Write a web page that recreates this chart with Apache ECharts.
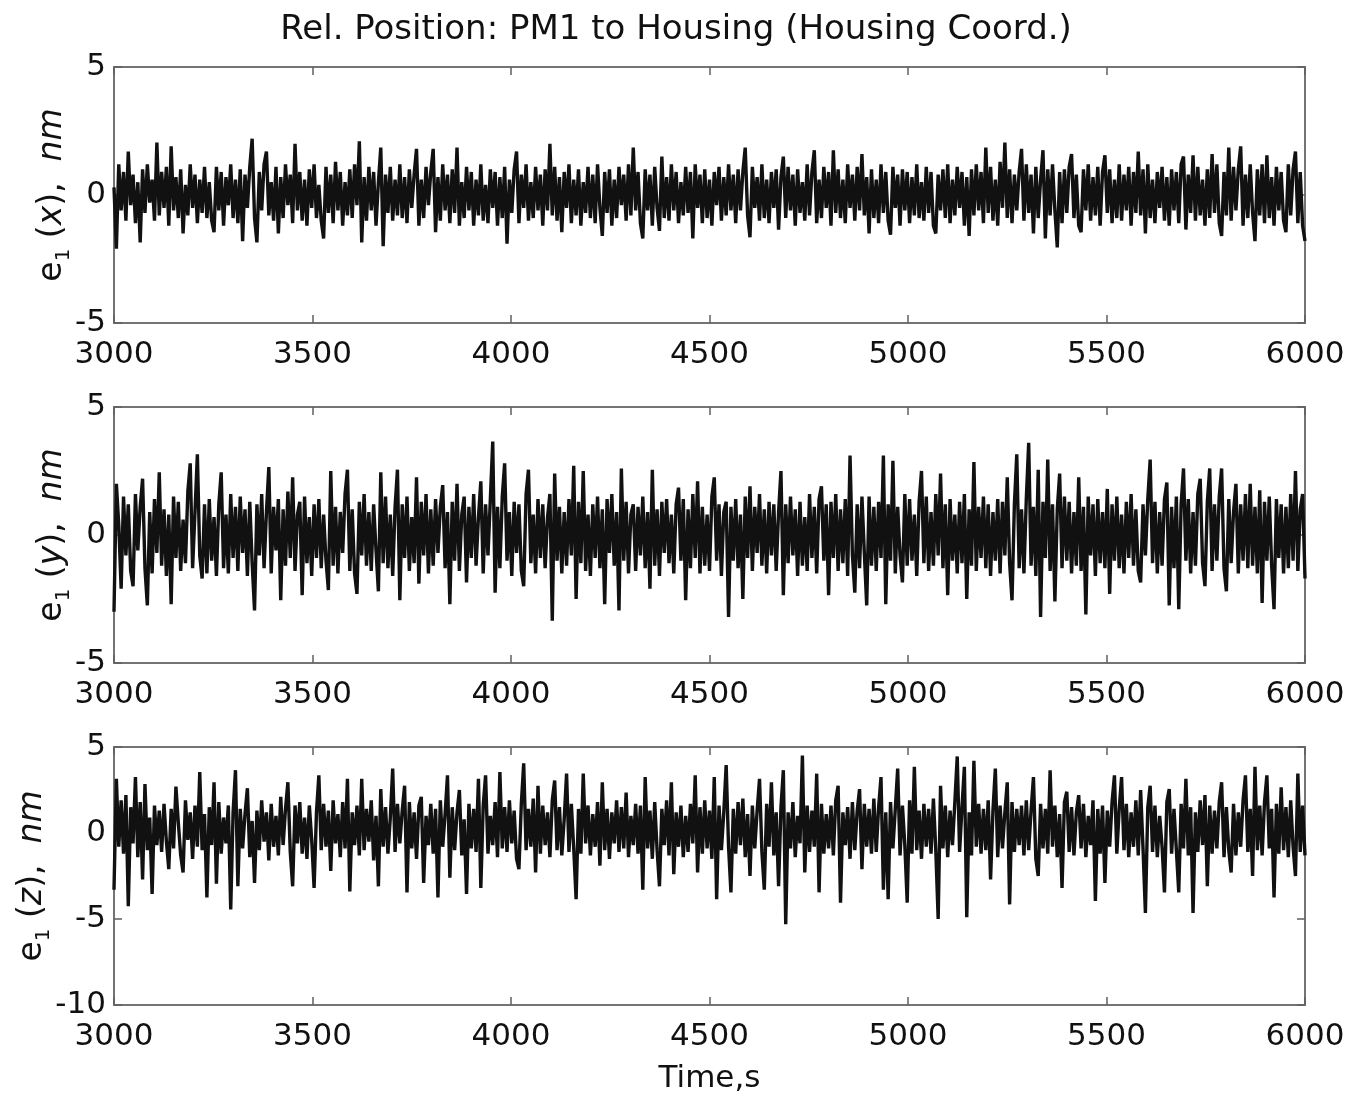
<!DOCTYPE html>
<html><head><meta charset="utf-8">
<script src="https://cdn.jsdelivr.net/npm/echarts@6/dist/echarts.min.js"></script>
<style>html,body{margin:0;padding:0;background:#fff}#c{width:1352px;height:1096px}</style>
</head><body><div id="c"></div>
<script>
const TITLE = 'Rel. Position: PM1 to Housing (Housing Coord.)';
const X_LABEL = 'Time,s';
const T_START = 3000, T_END = 6000, T_STEP = 500;
const Y_RANGES = [[-5, 5, 5], [-5, 5, 5], [-10, 5, 5]];
const Y_NAMES = ['x', 'y', 'z'];

// e1(x), nm  (samples evenly spaced over 3000..6000 s)
const ex = [
0.3,-2.1,1.2,-0.6,0.9,-1.0,1.7,-0.4,0.8,-1.1,0.5,-1.85,1.0,-0.7,1.2,-0.3,0.6,-1.0,2.05,-0.8,
0.9,-0.5,1.1,-1.2,1.9,-0.6,0.7,-0.9,1.0,-1.5,0.4,-0.8,1.2,-0.5,0.8,-1.1,0.6,-0.7,1.1,-0.9,
0.5,-1.0,-1.45,1.1,-0.6,0.9,-1.2,0.7,-0.4,1.2,-0.9,0.6,-1.1,1.0,-1.8,0.8,-0.5,1.1,2.2,-0.9,
-1.85,0.9,-0.6,1.2,1.7,-0.8,0.5,-1.0,1.1,-1.5,0.7,-0.9,1.2,-0.4,0.8,-1.1,2.0,-0.6,0.9,-1.0,
0.6,-1.2,1.0,-0.5,1.2,-0.9,0.4,-1.0,-1.7,1.1,-0.7,0.8,-1.1,1.3,-0.6,0.9,-1.2,0.5,-0.8,1.0,
-0.9,1.2,-0.4,2.1,-1.85,0.7,-1.0,1.1,-0.6,0.9,-1.2,0.5,1.85,-2.0,0.8,-0.7,1.1,-1.0,0.6,-0.8,
1.2,-0.9,0.7,-1.1,1.0,-0.5,0.8,1.8,-1.2,0.6,-0.9,1.1,-0.4,0.9,1.8,-1.45,0.7,-1.0,1.2,-0.6,
0.8,-1.1,1.0,-0.7,1.85,-1.2,0.5,-0.9,1.1,-0.6,0.9,-1.2,0.6,-0.8,1.2,-1.0,0.4,-1.1,1.0,-0.5,
0.9,-1.2,0.7,-0.9,1.1,-1.9,0.6,-0.7,1.0,1.7,-1.1,0.8,-0.5,1.2,-1.0,0.5,-0.9,1.1,-0.6,0.8,
-1.2,1.0,-0.6,2.0,-0.8,1.1,-1.0,0.7,-1.45,0.9,-0.5,1.2,-1.1,0.6,-0.8,1.0,-1.2,0.5,-0.7,1.1,
-0.9,0.8,-1.1,1.2,-0.5,-1.6,0.9,-0.7,1.0,-1.2,0.6,-0.9,1.1,-0.4,0.8,-1.0,1.2,-0.8,1.85,-0.6,
0.9,-1.1,-1.7,1.0,-0.6,0.8,-1.2,1.1,-0.5,-1.4,1.5,-0.9,0.7,-1.0,1.2,-0.6,0.9,-1.1,0.5,-0.8,
1.1,-0.7,0.9,-1.7,1.2,-0.5,0.8,-1.1,1.0,-0.9,0.6,-1.2,0.9,-0.4,1.1,-1.0,0.7,-0.8,1.2,-0.6,
0.8,-1.1,1.0,-0.6,0.9,1.85,-0.8,-1.65,1.1,-0.5,0.7,-1.0,1.2,-0.9,0.6,-1.1,0.9,-0.5,1.0,-1.35,
0.7,1.5,-0.9,1.1,-0.6,0.8,-1.2,1.0,-0.7,0.5,-1.0,1.2,-0.8,0.9,1.75,-1.1,0.6,-0.9,1.1,-0.5,
0.9,-1.2,1.75,-0.7,1.0,-0.9,0.6,-1.1,1.2,-0.5,0.8,-1.0,1.1,-0.6,1.6,-0.8,0.7,-1.5,1.0,-0.9,
0.6,-1.1,1.2,-0.7,0.9,-1.0,-1.55,1.1,-0.5,0.8,-1.2,1.0,-0.6,0.9,-1.1,0.7,-0.8,1.2,-0.9,0.5,
-1.0,1.1,-0.7,0.9,-1.2,-1.5,0.8,-0.6,1.0,-0.9,1.2,-1.1,0.6,-0.8,1.1,-0.5,0.9,-1.2,0.7,-1.6,
1.0,-0.8,1.2,-0.6,0.9,-1.1,1.85,-0.7,1.1,-1.0,0.6,-1.2,1.3,-0.5,2.05,-0.9,1.0,-1.1,0.8,-0.6,
0.9,1.8,-1.0,1.2,-0.7,0.8,-1.5,1.1,-0.9,0.6,1.75,-1.7,1.0,-0.8,1.2,-0.6,-2.05,0.9,-1.1,1.0,
-0.7,1.1,1.6,-0.9,0.8,-1.2,-1.45,1.0,-0.6,1.2,-1.0,0.7,-0.8,1.1,-1.2,0.9,1.55,-0.7,1.0,-1.1,
0.6,-0.9,1.2,-1.0,0.8,-0.6,1.1,-1.2,0.9,-0.7,1.7,-0.8,1.0,-1.5,1.2,-0.9,0.6,-1.1,0.9,-0.5,
1.1,-1.0,0.7,-1.2,1.0,-0.6,0.9,-1.1,1.2,1.5,-1.35,0.8,-0.7,1.55,-1.0,1.1,-0.8,0.6,-1.2,1.0,
-0.9,1.6,-0.7,1.2,-1.1,-1.6,0.9,-0.8,1.85,-1.0,1.1,-0.6,1.0,1.9,-1.2,0.8,-0.9,1.2,-0.7,-1.8,
1.0,-0.8,1.2,-1.1,1.55,-0.9,0.7,-1.2,1.1,-0.6,0.9,-1.0,-1.45,1.2,-0.8,1.0,1.7,-1.1,0.9,-1.2,
-1.8
];

// e1(y), nm
const ey = [
-3.0,2.0,0.4,-2.1,1.5,-0.8,1.2,-1.4,-2.0,1.6,-0.6,1.1,2.2,-1.3,-2.75,0.9,-1.5,1.4,-0.7,2.45,
-1.2,1.0,-1.6,0.8,-2.7,1.5,-0.9,1.3,-1.4,0.6,-1.1,1.7,2.8,-1.3,0.9,3.15,-0.8,-1.7,1.2,-1.5,
1.4,-1.0,0.7,-1.6,1.2,2.45,-1.3,0.8,-1.5,1.6,-0.9,1.1,-1.4,1.5,-0.7,1.0,-1.6,1.3,-1.1,-2.95,
1.2,-0.8,1.6,-1.3,0.9,2.65,-1.5,1.1,-0.6,1.4,-2.55,1.0,-1.2,1.7,-0.9,2.25,-1.4,0.8,1.3,-2.35,
1.5,-1.1,0.7,-1.6,1.2,-0.9,1.4,-1.3,0.8,-1.0,-2.15,2.5,-1.2,1.1,-1.5,0.9,-0.7,1.6,2.55,-1.4,
1.0,-1.5,-2.3,1.3,-0.8,1.6,-1.2,0.9,-1.4,1.2,-0.6,-2.2,2.45,-1.1,1.5,-1.3,0.8,-1.6,1.1,2.55,
-2.55,1.2,-0.9,1.5,-1.4,0.7,-1.1,2.25,-1.9,1.3,-0.8,1.6,-1.5,1.0,-1.2,1.4,-0.7,1.1,1.95,-1.3,
0.9,-2.7,1.3,-1.0,2.0,-1.4,0.8,1.5,-1.85,1.1,-0.9,1.6,-1.2,0.7,2.1,-1.5,1.2,-0.8,1.4,3.65,
-2.25,1.1,-1.3,1.5,2.8,-1.0,0.9,-1.6,1.3,-0.7,1.2,-1.4,-2.0,1.6,2.55,-1.1,0.8,-1.5,1.4,-0.9,
1.2,-1.3,0.7,1.6,-3.35,2.4,-1.0,1.1,-1.5,0.9,-1.2,1.4,-0.8,2.7,-2.5,1.3,-1.1,2.5,-1.4,0.8,
-1.6,1.2,-0.9,1.5,-1.3,1.0,-2.7,1.4,-0.7,1.6,-1.2,0.9,-2.95,2.6,-1.0,1.3,-1.5,0.8,1.2,-1.4,
1.1,-0.8,1.5,-1.3,0.9,-2.1,2.55,-1.2,1.0,-1.6,1.3,-0.7,1.4,-1.1,0.8,-1.5,1.2,1.85,-1.0,1.4,
-2.55,1.0,-1.3,1.6,-0.9,2.1,-1.5,1.1,-1.2,0.8,-1.4,1.5,2.25,-1.0,1.2,-1.6,0.9,1.3,-3.2,1.1,
-1.0,1.4,-1.3,0.8,-2.5,1.5,-0.9,1.9,-1.4,1.1,-0.7,1.6,-1.2,1.0,-1.5,1.3,-0.8,1.2,-1.4,0.9,
2.5,-2.35,1.2,-1.1,1.5,-0.8,1.0,-1.6,1.3,-1.2,0.7,-1.4,1.6,-0.9,1.1,-1.5,1.4,1.9,-1.0,1.2,
-2.35,1.3,-0.9,1.6,-1.4,1.0,-1.1,1.4,-1.6,3.1,-0.8,-2.25,1.2,-1.3,1.5,-0.7,-2.75,1.5,-1.2,1.1,
-1.4,1.3,-0.9,3.1,-2.7,1.2,-1.0,2.9,-1.5,1.1,-0.8,-1.85,1.6,-1.2,1.4,-1.0,0.8,-1.6,1.3,2.5,
-1.1,1.5,-1.4,0.9,-1.2,1.6,-0.8,2.4,-1.3,1.2,-2.35,1.4,-1.0,0.8,-1.5,1.3,-1.1,1.6,-2.5,1.0,
-1.2,2.85,-1.4,1.1,-0.9,1.5,-1.3,1.2,-1.6,0.9,-1.0,1.4,-1.5,1.3,-0.8,2.25,-1.1,-2.55,1.2,3.15,
-1.3,1.0,-1.5,1.4,3.6,-1.2,1.1,-1.6,2.55,-3.2,1.3,-0.9,2.95,-1.4,1.2,-2.6,1.0,2.4,-1.3,1.5,
-1.0,1.3,-1.5,0.9,-1.2,2.25,-1.4,1.1,-3.1,1.5,-0.8,1.2,-1.6,1.4,-1.1,0.9,-1.3,1.8,-2.3,1.2,
-1.0,1.5,-1.3,0.8,-1.5,1.3,-0.9,1.6,-1.2,1.0,-1.4,-1.85,1.2,-0.8,1.4,2.95,-1.1,1.3,-1.5,0.9,
-1.2,1.4,2.05,-2.75,1.1,-1.3,1.5,-2.9,1.2,2.6,-1.0,1.4,-1.5,0.9,-1.2,1.6,2.2,-1.1,-2.0,1.3,
2.6,-1.4,1.2,-1.0,1.5,2.6,-1.3,-2.2,1.4,-1.1,0.9,2.0,-1.5,1.2,-1.0,1.6,-1.3,2.0,-1.2,1.1,
-1.5,1.75,-2.65,1.3,-1.0,1.5,-1.2,-2.9,1.4,-0.9,1.2,-1.5,1.1,-1.3,1.6,-1.0,2.5,-1.4,1.0,1.6,
-1.7
];

// e1(z), nm
const ez = [
-3.3,3.15,-0.8,1.9,-1.2,2.2,-4.25,1.5,-0.6,3.25,-1.4,1.8,-2.7,2.85,-1.0,0.9,-3.55,1.6,-0.7,1.3,
-1.1,1.7,-0.5,-2.1,1.4,-0.9,2.7,0.6,-1.3,-2.3,1.9,-0.4,1.2,-1.5,1.6,-0.8,3.55,-1.0,1.1,-3.75,
1.5,-0.7,2.95,-2.95,1.8,-1.2,0.9,-0.6,1.6,-4.45,1.2,3.65,-3.1,1.4,-0.9,1.1,2.6,-1.4,0.7,-2.9,
1.3,-1.0,1.9,-0.5,1.2,-1.6,1.7,-0.8,1.0,-1.3,2.1,-0.7,1.4,2.95,-1.1,-3.1,1.6,-0.6,1.8,-1.2,
0.9,-1.5,1.6,-0.4,-3.2,1.2,3.35,-1.0,1.7,-0.8,1.3,-2.2,1.9,-0.6,1.1,-1.4,1.8,-0.9,3.15,-3.4,
1.2,-0.7,1.6,-1.3,3.15,-1.0,1.4,-0.5,1.9,-1.6,1.0,-3.1,2.55,-0.8,1.5,-1.2,0.9,3.75,-1.1,1.7,
-0.6,1.3,2.75,-3.45,1.8,-0.9,1.2,-1.5,1.6,2.1,-2.9,1.0,-0.7,1.7,-1.2,1.4,-3.75,1.9,-0.8,1.1,
3.35,-2.6,1.5,-1.0,1.2,2.5,-1.3,0.8,-3.55,1.7,-0.9,1.4,-1.1,3.15,-3.2,1.6,3.35,-1.2,1.0,-0.7,
1.8,-1.4,3.55,-0.9,1.5,-1.1,1.9,-0.6,1.3,-1.5,-2.1,1.7,4.05,-1.0,1.4,-0.8,2.0,-2.3,2.75,-1.2,
1.6,-0.7,1.2,-1.4,1.9,3.05,-1.0,1.5,-1.3,0.8,3.45,-1.1,1.7,-0.9,-3.85,1.4,-1.2,3.45,-0.6,1.6,
-1.3,1.1,-0.8,1.8,-1.9,2.95,-1.0,1.4,-1.5,1.2,-0.6,1.9,-1.1,1.5,-0.9,2.35,-1.4,1.0,-0.7,1.7,
-1.2,1.6,-3.3,3.25,-0.9,1.3,-1.5,1.8,-1.0,-3.1,1.4,-0.7,1.9,-1.3,2.95,-2.4,1.2,-0.8,1.6,-1.4,
1.0,-1.1,1.7,-0.6,3.35,-2.3,1.5,-1.2,1.9,-0.9,1.3,-1.5,3.25,-3.85,1.6,-1.0,1.2,3.95,-0.8,-3.45,
1.4,-1.2,1.8,-0.7,2.0,-1.4,1.1,-2.5,1.6,-0.9,1.3,3.15,-1.1,-3.3,1.7,-0.8,2.95,-1.3,1.2,-3.1,
1.5,3.65,-5.3,1.2,-0.9,1.8,-1.4,1.0,-0.6,4.5,-2.3,1.6,-1.1,1.3,-0.8,3.45,-3.45,1.7,-1.2,1.1,
-0.9,1.6,-1.3,1.9,2.75,-4.05,1.2,-0.7,1.5,-1.5,1.8,-1.0,1.3,2.55,-2.1,1.7,-0.8,1.4,-1.2,2.0,
-1.1,1.5,3.25,-3.3,1.2,-3.85,1.8,-0.9,1.4,3.75,-1.3,1.6,-0.7,-4.05,1.9,-1.2,3.85,-1.0,1.3,-1.5,
1.7,-0.8,1.4,-1.2,2.0,-1.0,-5.0,2.75,-0.9,1.6,-1.4,1.3,-0.7,1.8,4.45,-1.1,1.5,3.85,-4.9,1.2,
-1.3,4.2,-0.8,1.7,-1.2,1.4,-1.0,1.9,-2.7,1.3,3.75,-1.4,1.6,-0.9,1.2,2.95,-4.15,1.8,-1.1,1.4,
-0.7,1.6,-1.3,1.9,-1.0,1.3,3.25,-1.5,-2.5,1.7,-0.9,1.4,-1.2,3.65,-0.8,1.6,-1.4,1.1,-3.2,1.8,
2.4,-1.1,1.5,-1.3,1.2,2.2,-0.9,1.7,-1.4,1.0,-0.7,1.9,-3.95,1.4,-1.2,1.6,-2.9,1.3,-0.8,1.8,
3.35,-1.2,1.4,3.25,-1.0,1.7,-1.4,1.2,-0.8,1.9,-1.3,2.5,-0.9,-4.65,1.5,2.75,-1.1,1.6,-1.4,1.0,
-0.8,-3.45,1.8,2.55,-1.2,1.4,-1.0,-3.45,1.7,-0.9,3.15,-1.3,1.5,-4.65,1.2,-1.1,1.9,-0.7,2.2,-3.1,
1.6,-1.2,1.3,-0.9,1.8,2.95,-1.4,1.5,-1.0,-2.3,1.7,-1.3,1.2,-0.8,1.9,3.35,-1.1,1.4,-2.5,3.85,
-1.0,1.6,-1.3,1.8,3.35,-0.9,1.4,-3.75,1.7,-1.2,2.65,-1.0,1.5,-1.4,1.9,-0.8,-2.5,3.45,-1.1,1.6,
-1.3
];

const SERIES = [ex, ey, ez];
const FONT = 'DejaVu Sans';
const GRID_POS = [{top: 67, height: 256, nameGap: 40}, {top: 407, height: 256, nameGap: 40}, {top: 747, height: 258, nameGap: 60}];

function toPairs(arr) {
  const n = arr.length;
  return arr.map((v, i) => [T_START + i * (T_END - T_START) / (n - 1), v]);
}
const plain = v => String(v);

const grids = [], xAxes = [], yAxes = [], series = [];
const axisLineStyle = {show: true, onZero: false, lineStyle: {color: '#747474', width: 2}};
const tickStyle = {show: true, inside: true, length: 8, lineStyle: {color: '#606060', width: 1.5}};

GRID_POS.forEach((g, i) => {
  grids.push({left: 114, right: 47, top: g.top, height: g.height, containLabel: false});
  const [ymin, ymax, yint] = Y_RANGES[i];
  const bottom = {
    type: 'value', gridIndex: i, position: 'bottom', min: T_START, max: T_END, interval: T_STEP,
    axisLine: axisLineStyle, axisTick: tickStyle, splitLine: {show: false},
    axisLabel: {show: true, fontSize: 31, fontFamily: FONT, color: '#111', margin: 16, formatter: plain}
  };
  if (i === 2) {
    bottom.name = X_LABEL;
    bottom.nameLocation = 'middle';
    bottom.nameGap = 58;
    bottom.nameMoveOverlap = false;
    bottom.nameTextStyle = {fontSize: 31, fontFamily: FONT, color: '#111'};
  }
  xAxes.push(bottom);
  xAxes.push({
    type: 'value', gridIndex: i, position: 'top', min: T_START, max: T_END, interval: T_STEP,
    axisLine: axisLineStyle, axisTick: tickStyle, splitLine: {show: false}, axisLabel: {show: false}
  });
  yAxes.push({
    type: 'value', gridIndex: i, position: 'left', min: ymin, max: ymax, interval: yint,
    axisLine: axisLineStyle, axisTick: tickStyle, splitLine: {show: false},
    axisLabel: {show: true, fontSize: 31, fontFamily: FONT, color: '#111', margin: 8, formatter: plain},
    name: '{e|e}{s|1}{n| (}{i|' + Y_NAMES[i] + '}{n|),  }{i|nm}',
    nameLocation: 'middle', nameRotate: 90, nameGap: g.nameGap, nameMoveOverlap: false,
    nameTextStyle: {
      fontFamily: FONT, fontSize: 33, color: '#111',
      rich: {
        e: {fontFamily: FONT, fontSize: 33, color: '#111', lineHeight: 44},
        n: {fontFamily: FONT, fontSize: 33, color: '#111', lineHeight: 44},
        i: {fontFamily: FONT, fontSize: 33, fontStyle: 'italic', color: '#111', lineHeight: 44},
        s: {fontFamily: FONT, fontSize: 20, color: '#111', lineHeight: 22, verticalAlign: 'bottom'}
      }
    }
  });
  yAxes.push({
    type: 'value', gridIndex: i, position: 'right', min: ymin, max: ymax, interval: yint,
    axisLine: axisLineStyle, axisTick: tickStyle, splitLine: {show: false}, axisLabel: {show: false}
  });
  series.push({
    type: 'line', xAxisIndex: 2 * i, yAxisIndex: 2 * i, data: toPairs(SERIES[i]),
    showSymbol: false, symbol: 'none', sampling: null, animation: false,
    lineStyle: {color: '#111', width: 3.4}
  });
});

const chart = echarts.init(document.getElementById('c'), null, {renderer: 'canvas'});
chart.setOption({
  animation: false,
  backgroundColor: '#fff',
  title: {text: TITLE, left: 'center', top: 8,
    textStyle: {fontFamily: FONT, fontSize: 34, fontWeight: 'normal', color: '#111'}},
  grid: grids, xAxis: xAxes, yAxis: yAxes, series: series
});
</script></body></html>
